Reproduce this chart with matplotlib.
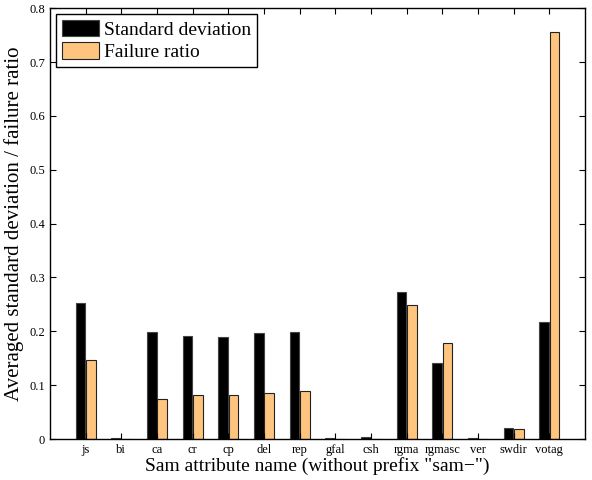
import matplotlib.pyplot as plt
import numpy as np

plt.rcParams['font.family'] = ['Liberation Serif', 'DejaVu Serif']
plt.rcParams['mathtext.fontset'] = 'stix'

attributes = ['js', 'bi', 'ca', 'cr', 'cp', 'del', 'rep', 'gfal', 'csh',
              'rgma', 'rgmasc', 'ver', 'swdir', 'votag']
std_dev = [0.252, 0.001, 0.198, 0.192, 0.189, 0.197, 0.199, 0.001, 0.003,
           0.273, 0.142, 0.001, 0.020, 0.218]
failure_ratio = [0.147, 0.0, 0.074, 0.081, 0.082, 0.086, 0.089, 0.0, 0.0,
                 0.249, 0.179, 0.0, 0.018, 0.756]
yticks = [0, 0.1, 0.2, 0.3, 0.4, 0.5, 0.6, 0.7, 0.8]

ORANGE = '#FFC57F'


def main():
    fig = plt.figure(figsize=(5.92, 4.8), dpi=100)
    ax = fig.add_axes([0.0845, 0.0854, 0.9035, 0.8976])

    x = np.arange(1, len(attributes) + 1)
    w = 0.27
    ax.bar(x - 0.145, std_dev, w, color='black', edgecolor='#444444',
           linewidth=0.8, label='Standard deviation')
    ax.bar(x + 0.145, failure_ratio, w, color=ORANGE, edgecolor='#222222',
           linewidth=0.8, label='Failure ratio')

    ax.set_xlim(0, 15)
    ax.set_ylim(0, 0.8)
    ax.set_xticks(x)
    ax.set_xticklabels(attributes, fontsize=9)
    ax.set_yticks(yticks)
    ax.set_yticklabels(['0' if v == 0 else '%.1f' % v for v in yticks], fontsize=9)
    ax.tick_params(direction='in', length=4, width=0.8, top=True, right=True)

    for s in ax.spines.values():
        s.set_linewidth(1.0)

    ax.set_xlabel('Sam attribute name (without prefix "sam\u2212")', fontsize=14, labelpad=1)
    ax.set_ylabel('Averaged standard deviation / failure ratio', fontsize=15, labelpad=4)

    leg = ax.legend(loc='upper left', fontsize=14, fancybox=False, framealpha=1,
                    edgecolor='black', handlelength=1.9, handleheight=0.9,
                    handletextpad=0.3, borderpad=0.3, labelspacing=0.2,
                    borderaxespad=0.3)
    leg.get_frame().set_linewidth(1.0)

    fig.savefig('out.png', dpi=100)


if __name__ == '__main__':
    main()
